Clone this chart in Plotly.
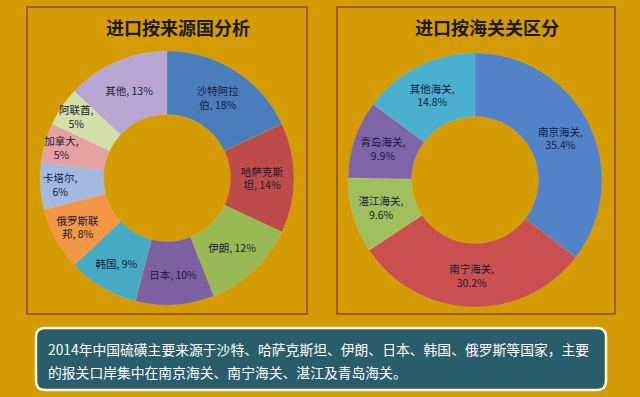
import plotly.graph_objects as go

W, H = 640, 397

# ---- data ----
src_countries = ["沙特阿拉伯", "哈萨克斯坦", "伊朗", "日本", "韩国", "俄罗斯联邦", "卡塔尔", "加拿大", "阿联酋", "其他"]
src_values = [18, 14, 12, 10, 9, 8, 6, 5, 5, 13]
src_labels = ["沙特阿拉<br>伯", "哈萨克斯<br>坦", "伊朗", "日本", "韩国", "俄罗斯联<br>邦",
              "卡塔尔", "加拿大", "阿联酋", "其他"]
src_sep = [", ", ", ", ", ", ", ", ", ", ", ", ",<br>", ",<br>", ",<br>", ", "]

customs_names = ["南京海关", "南宁海关", "湛江海关", "青岛海关", "其他海关"]
customs_values = [35.4, 30.2, 9.6, 9.9, 14.8]

title_left = "进口按来源国分析"
title_right = "进口按海关关区分"
note_lines = [
    "2014年中国硫磺主要来源于沙特、哈萨克斯坦、伊朗、日本、韩国、俄罗斯等国家，主要",
    "的报关口岸集中在南京海关、南宁海关、湛江及青岛海关。",
]

# ---- styles ----
BG = "#D49C02"
BORDER = "#9C5C0A"
src_colors = ["#4A7EBB", "#BE4B48", "#98B954", "#7D60A0", "#46AAC5",
              "#F39646", "#A3B9E0", "#E6A2A2", "#D2E1A9", "#B9A7D3"]
customs_colors = ["#5283C8", "#C9504E", "#A0C060", "#8064A8", "#4BB0D0"]
TXT = "#18183A"
FONT = "Noto Sans CJK SC"


def px(x):
    return x / W


def py(y):
    return 1 - y / H


src_text = [f"{l}{s}{v}%" for l, s, v in zip(src_labels, src_sep, src_values)]
customs_text = [f"{n},<br>{v}%" for n, v in zip(customs_names, customs_values)]

fig = go.Figure()

# left donut: center (167,178), radius 127
fig.add_trace(go.Pie(
    labels=src_countries, values=src_values, text=src_text,
    textinfo="text", textposition="inside", insidetextorientation="horizontal",
    hole=0.5, sort=False, direction="clockwise", rotation=0,
    marker=dict(colors=src_colors, line=dict(color="rgba(255,255,255,0.2)", width=0.5)),
    textfont=dict(family=FONT, size=10.5, color=TXT),
    domain=dict(x=[px(167 - 127), px(167 + 127)], y=[py(178 + 127), py(178 - 127)]),
    showlegend=False,
))

# right donut: center (475,180), radius 127
fig.add_trace(go.Pie(
    labels=customs_names, values=customs_values, text=customs_text,
    textinfo="text", textposition="inside", insidetextorientation="horizontal",
    hole=0.5, sort=False, direction="clockwise", rotation=0,
    marker=dict(colors=customs_colors, line=dict(color="rgba(255,255,255,0.2)", width=0.5)),
    textfont=dict(family=FONT, size=10.5, color=TXT),
    domain=dict(x=[px(475 - 127), px(475 + 127)], y=[py(180 + 127), py(180 - 127)]),
    showlegend=False,
))

shapes = []
# panel frames
for x0, x1 in [(27, 307), (337, 615)]:
    shapes.append(dict(type="rect", xref="paper", yref="paper",
                       x0=px(x0), x1=px(x1), y0=py(314), y1=py(7),
                       line=dict(color=BORDER, width=2), fillcolor="rgba(0,0,0,0)"))

# rounded text box
bx0, bx1, by0, by1, r = 36, 606, 328, 390, 9


def rounded_path(x0, y0, x1, y1, r):
    pts = [
        f"M {px(x0 + r)},{py(y0)}",
        f"L {px(x1 - r)},{py(y0)}",
        f"Q {px(x1)},{py(y0)} {px(x1)},{py(y0 + r)}",
        f"L {px(x1)},{py(y1 - r)}",
        f"Q {px(x1)},{py(y1)} {px(x1 - r)},{py(y1)}",
        f"L {px(x0 + r)},{py(y1)}",
        f"Q {px(x0)},{py(y1)} {px(x0)},{py(y1 - r)}",
        f"L {px(x0)},{py(y0 + r)}",
        f"Q {px(x0)},{py(y0)} {px(x0 + r)},{py(y0)}",
        "Z",
    ]
    return " ".join(pts)


shapes.append(dict(type="path", xref="paper", yref="paper",
                   path=rounded_path(bx0, by0, bx1, by1, r),
                   fillcolor="#2A5D6C", line=dict(color="#FFF8DC", width=2.5)))

annotations = [
    dict(text=f"<b>{title_left}</b>", x=px(178), y=py(27), xref="paper", yref="paper",
         showarrow=False, xanchor="center", yanchor="middle",
         font=dict(family=FONT, size=18, color="#1A1A1A")),
    dict(text=f"<b>{title_right}</b>", x=px(487), y=py(27), xref="paper", yref="paper",
         showarrow=False, xanchor="center", yanchor="middle",
         font=dict(family=FONT, size=18, color="#1A1A1A")),
]
for i, line in enumerate(note_lines):
    annotations.append(dict(text=line, x=px(46), y=py(349 + i * 23), xref="paper", yref="paper",
                            showarrow=False, xanchor="left", yanchor="middle",
                            font=dict(family=FONT, size=13.8, color="white")))

fig.update_layout(
    width=W, height=H,
    margin=dict(l=0, r=0, t=0, b=0),
    paper_bgcolor=BG, plot_bgcolor=BG,
    shapes=shapes, annotations=annotations,
    uniformtext=dict(minsize=10.5, mode="show"),
)

fig.write_html(
    "out.html",
    config={"displayModeBar": False},
    post_script="document.body.style.margin='0';document.body.style.background='%s';" % BG,
)
